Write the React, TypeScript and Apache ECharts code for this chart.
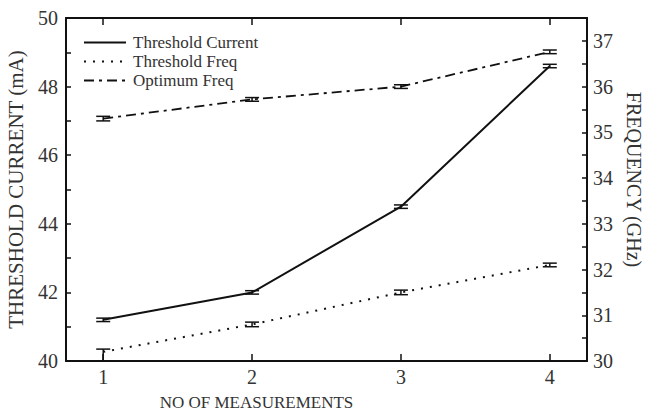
import React, { useEffect, useRef } from "react";
import * as echarts from "echarts";

const measurements = [1, 2, 3, 4];
const xTickValues = [1, 2, 3, 4];

const thresholdCurrent = [41.2, 42.0, 44.5, 48.6];
const thresholdCurrentLow = [41.15, 41.95, 44.45, 48.55];
const thresholdCurrentHigh = [41.25, 42.05, 44.55, 48.65];

const thresholdFreq = [30.2, 30.8, 31.5, 32.1];
const thresholdFreqLow = [30.0, 30.75, 31.45, 32.06];
const thresholdFreqHigh = [30.26, 30.85, 31.55, 32.14];

const optimumFreq = [35.3, 35.72, 36.0, 36.76];
const optimumFreqLow = [35.25, 35.68, 35.96, 36.72];
const optimumFreqHigh = [35.35, 35.76, 36.04, 36.8];

const FONT = "'Liberation Serif', 'Times New Roman', serif";
const INK = "#111";
const TEXT = "#333";

function pairs(xs: number[], ys: number[]) {
  return xs.map((x, i) => [x, ys[i]]);
}
function triples(xs: number[], lo: number[], hi: number[]) {
  return xs.map((x, i) => [x, lo[i], hi[i]]);
}

function errorSeries(name: string, yAxisIndex: number, data: number[][]) {
  return {
    name,
    type: "custom",
    xAxisIndex: 0,
    yAxisIndex,
    encode: { x: 0, y: [1, 2] },
    z: 5,
    data,
    renderItem: (params: any, api: any) => {
      const x = api.value(0);
      const lo = api.coord([x, api.value(1)]);
      const hi = api.coord([x, api.value(2)]);
      const hw = 7;
      const style = { stroke: INK, lineWidth: 1.5, fill: "none" };
      return {
        type: "group",
        children: [
          { type: "line", shape: { x1: lo[0], y1: lo[1], x2: hi[0], y2: hi[1] }, style },
          { type: "line", shape: { x1: lo[0] - hw, y1: lo[1], x2: lo[0] + hw, y2: lo[1] }, style },
          { type: "line", shape: { x1: hi[0] - hw, y1: hi[1], x2: hi[0] + hw, y2: hi[1] }, style },
        ],
      };
    },
  };
}

export default function App() {
  const ref = useRef<HTMLDivElement>(null);
  useEffect(() => {
    if (!ref.current) return;
    const chart = echarts.init(ref.current, null, { renderer: "svg" });
    const axisLine = { show: true, lineStyle: { color: INK, width: 2 } };
    const option: any = {
      animation: false,
      backgroundColor: "#fff",
      grid: { left: 66, right: 60, top: 18, bottom: 56, outerBoundsMode: "none" },
      legend: {
        data: ["Threshold Current", "Threshold Freq", "Optimum Freq"],
        orient: "vertical",
        left: 83,
        top: 34,
        padding: 0,
        itemWidth: 42,
        itemHeight: 12,
        itemGap: 2,
        itemStyle: { color: "transparent", borderColor: "transparent", borderWidth: 0 },
        textStyle: { fontFamily: FONT, fontSize: 17, color: TEXT, padding: [0, 0, 0, 2] },
      },
      xAxis: [
        {
          type: "value",
          position: "bottom",
          min: 0.75,
          max: 4.25,
          name: "NO OF MEASUREMENTS",
          nameLocation: "middle",
          nameGap: 33,
          nameTextStyle: { fontFamily: FONT, fontSize: 17, color: TEXT, padding: [0, 140, 0, 0] },
          axisLine,
          axisTick: { show: true, inside: true, length: 7, customValues: xTickValues, lineStyle: { color: INK, width: 1.5 } },
          axisLabel: { customValues: xTickValues, fontFamily: FONT, fontSize: 20, color: TEXT, margin: 6 },
          splitLine: { show: false },
        },
        {
          type: "value",
          position: "top",
          min: 0.75,
          max: 4.25,
          axisLine,
          axisTick: { show: true, inside: true, length: 7, customValues: xTickValues, lineStyle: { color: INK, width: 1.5 } },
          axisLabel: { show: false },
          splitLine: { show: false },
        },
      ],
      yAxis: [
        {
          type: "value",
          position: "left",
          min: 40,
          max: 50,
          interval: 2,
          name: "THRESHOLD CURRENT (mA)",
          nameLocation: "middle",
          nameRotate: 90,
          nameGap: 40,
          nameTextStyle: { fontFamily: FONT, fontSize: 21, color: TEXT },
          axisLine,
          axisTick: { show: true, inside: true, length: 5, lineStyle: { color: INK, width: 1.5 } },
          minorTick: { show: true, splitNumber: 2, length: 5, lineStyle: { color: INK, width: 1.5 } },
          axisLabel: { fontFamily: FONT, fontSize: 20, color: TEXT, margin: 8 },
          splitLine: { show: false },
        },
        {
          type: "value",
          position: "right",
          min: 30,
          max: 37.5,
          interval: 1,
          name: "FREQUENCY (GHz)",
          nameLocation: "middle",
          nameRotate: -90,
          nameGap: 37,
          nameTextStyle: { fontFamily: FONT, fontSize: 20, color: TEXT, padding: [0, 20, 0, 0] },
          axisLine,
          axisTick: { show: true, inside: true, length: 5, lineStyle: { color: INK, width: 1.5 } },
          minorTick: { show: true, splitNumber: 2, length: 5, lineStyle: { color: INK, width: 1.5 } },
          axisLabel: {
            fontFamily: FONT,
            fontSize: 20,
            color: TEXT,
            margin: 6,
            formatter: (v: number) => (v === 37.5 ? "" : String(v)),
          },
          splitLine: { show: false },
        },
      ],
      series: [
        {
          name: "Threshold Current",
          type: "line",
          xAxisIndex: 0,
          yAxisIndex: 0,
          symbol: "none",
          data: pairs(measurements, thresholdCurrent),
          lineStyle: { color: INK, width: 2, type: "solid" },
          itemStyle: { color: INK },
        },
        {
          name: "Threshold Freq",
          type: "line",
          xAxisIndex: 0,
          yAxisIndex: 1,
          symbol: "none",
          data: pairs(measurements, thresholdFreq),
          lineStyle: { color: INK, width: 2, type: [2, 7] },
          itemStyle: { color: INK },
        },
        {
          name: "Optimum Freq",
          type: "line",
          xAxisIndex: 0,
          yAxisIndex: 1,
          symbol: "none",
          data: pairs(measurements, optimumFreq),
          lineStyle: { color: INK, width: 1.8, type: [10, 5, 3, 5] },
          itemStyle: { color: INK },
        },
        errorSeries("errCurrent", 0, triples(measurements, thresholdCurrentLow, thresholdCurrentHigh)),
        errorSeries("errThresholdFreq", 1, triples(measurements, thresholdFreqLow, thresholdFreqHigh)),
        errorSeries("errOptimumFreq", 1, triples(measurements, optimumFreqLow, optimumFreqHigh)),
      ],
    };
    chart.setOption(option);
    return () => chart.dispose();
  }, []);
  return (
    <div
      ref={ref}
      style={{ position: "fixed", left: 0, top: 0, width: 647, height: 417, background: "#fff" }}
    />
  );
}
